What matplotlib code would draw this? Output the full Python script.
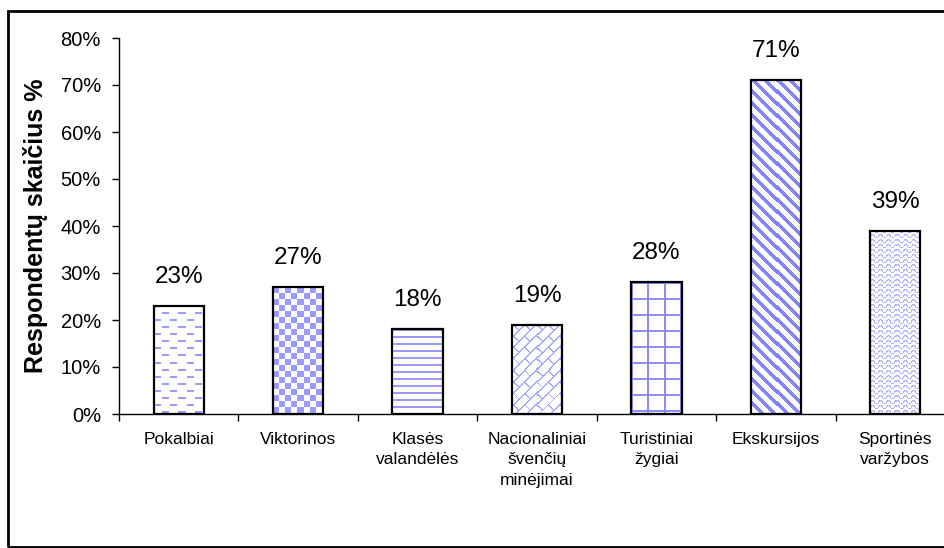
import numpy as np
import matplotlib.pyplot as plt
from matplotlib.colors import to_rgba
from matplotlib.patches import Rectangle
from matplotlib.ticker import FixedLocator

plt.rcParams['font.family'] = ['Liberation Sans', 'DejaVu Sans']

# duomenys
kategorijos = ['Pokalbiai', 'Viktorinos', 'Klasės\nvalandėlės',
               'Nacionaliniai\nšvenčių\nminėjimai', 'Turistiniai\nžygiai',
               'Ekskursijos', 'Sportinės\nvaržybos']
reiksmes = [23, 27, 18, 19, 28, 71, 39]
y_zymes = [0, 10, 20, 30, 40, 50, 60, 70, 80]
rastai = ['dashes', 'checker', 'hlines', 'brick', 'grid', 'diag', 'wave']


def rastas(kind, h, w):
    '''grazina kaukes masyva (pikseliais) bar rastui'''
    yy, xx = np.mgrid[0:h, 0:w]
    if kind == 'dashes':
        row = yy // 7
        return (yy % 7 < 2) & (((xx + (row % 2) * 8) % 16) < 7)
    if kind == 'checker':
        return ((yy // 6 + xx // 6) % 2) == 0
    if kind == 'hlines':
        return yy % 7 < 2
    if kind == 'brick':
        a = (xx + yy) / np.sqrt(2)
        b = (xx - yy) / np.sqrt(2)
        P = 8
        eil = np.floor(a / P)
        return (a % P < 1.3) | (((b + (eil % 2) * P) % (2 * P)) < 1.3)
    if kind == 'grid':
        return (yy % 16 < 2) | (xx % 16 < 2)
    if kind == 'diag':
        return ((xx - yy) % 12) < 5
    if kind == 'wave':
        return ((yy + 1.5 * np.sin(2 * np.pi * xx / 8)) % 5) < 1.2
    return np.zeros((h, w), bool)


spalvos = {'dashes': '#9a9aff', 'checker': '#9a9aff', 'hlines': '#9a9aff',
           'brick': '#a8a8ff', 'grid': '#8c8cff', 'diag': '#8484ff',
           'wave': '#b0b0ff'}

W, H = 945, 548
fig = plt.figure(figsize=(W / 100, H / 100), dpi=100)
ax = fig.add_axes([119 / W, 134 / H, 836 / W, 376 / H])

x = np.arange(len(kategorijos))
ax.set_xlim(-0.5, len(kategorijos) - 0.5)
ax.set_ylim(0, 80)

bars = ax.bar(x, reiksmes, width=0.42, color='white', edgecolor='none', zorder=2)

for bar, kind in zip(bars, rastai):
    x0, y0 = bar.get_x(), bar.get_y()
    w, h = bar.get_width(), bar.get_height()
    p0 = ax.transData.transform((x0, y0))
    p1 = ax.transData.transform((x0 + w, y0 + h))
    pw, ph = int(round(p1[0] - p0[0])), int(round(p1[1] - p0[1]))
    img = np.ones((ph, pw, 4))
    img[rastas(kind, ph, pw)] = to_rgba(spalvos[kind])
    ax.imshow(img, extent=(x0, x0 + w, y0, y0 + h), origin='upper',
              interpolation='nearest', aspect='auto', zorder=2.5)

ax.bar(x, reiksmes, width=0.42, color='none', edgecolor='black', linewidth=1.6, zorder=3)
ax.set_xlim(-0.5, len(kategorijos) - 0.5)
ax.set_ylim(0, 80)

for xi, v in zip(x, reiksmes):
    ax.annotate(f'{v}%', (xi, v), xytext=(0, 13), textcoords='offset points',
                ha='center', va='bottom', fontsize=17.5)

# asys
ax.set_yticks(y_zymes)
ax.set_yticklabels([f'{v}%' for v in y_zymes], fontsize=14.5)
ax.set_xticks(x)
ax.set_xticklabels(kategorijos, fontsize=12.5, linespacing=1.45)
ax.xaxis.set_minor_locator(FixedLocator(np.arange(-0.5, len(kategorijos), 1)))
ax.tick_params(axis='x', which='major', length=0, pad=13)
ax.tick_params(axis='x', which='minor', length=5, width=1, direction='out')
ax.tick_params(axis='y', length=5, width=1, direction='out', pad=8)
for s in ['top', 'right']:
    ax.spines[s].set_visible(False)
ax.spines['left'].set_linewidth(1)
ax.spines['bottom'].set_linewidth(1)

fig.text(36 / W, 1 - 226 / H, 'Respondentų skaičius %', rotation=90,
         ha='center', va='center', fontsize=18, fontweight='bold')

# remelis
fig.add_artist(Rectangle((8 / W, 1.5 / H), 1.0, 536 / H, transform=fig.transFigure,
                         fill=False, edgecolor='black', linewidth=2))

fig.savefig('out.png', dpi=100)
